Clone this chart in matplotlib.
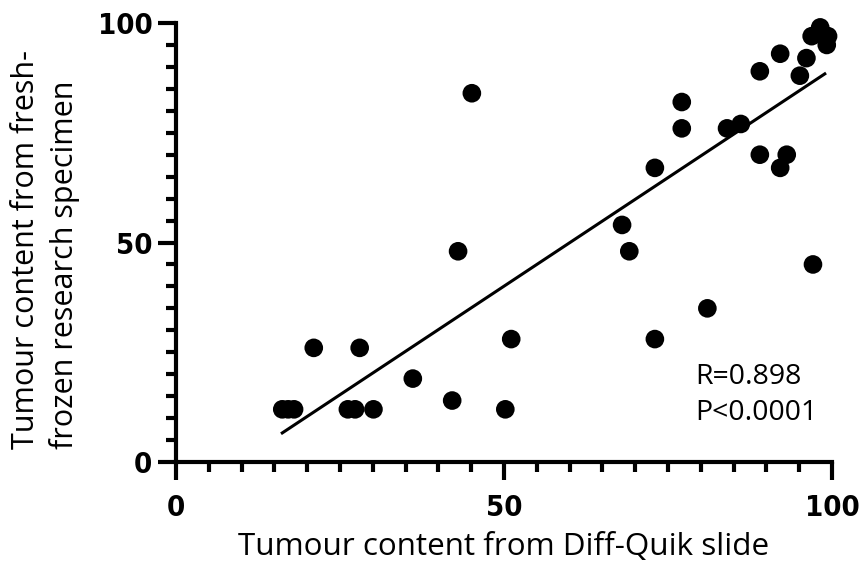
import matplotlib.pyplot as plt
import numpy as np
from matplotlib.ticker import MultipleLocator

# Tumour content (%)
diff_quik = [16.2, 17.1, 18.0, 21.0, 28.0, 26.2, 27.3, 30.1, 36.1, 42.1,
             43.0, 45.1, 50.2, 51.1, 73.0, 81.0, 68.0, 69.1, 73.0, 77.1,
             77.1, 84.0, 86.1, 89.0, 93.1, 92.1, 89.0, 92.1, 96.1, 95.1,
             97.1, 98.2, 96.9, 99.4, 99.2]
fresh_frozen = [12, 12, 12, 26, 26, 12, 12, 12, 19, 14,
                48, 84, 12, 28, 28, 35, 54, 48, 67, 82,
                76, 76, 77, 70, 70, 67, 89, 93, 92, 88,
                45, 99, 97, 97, 95]
# regression line as drawn in the figure
fit_slope = 0.989
fit_intercept = -9.4
fit_x = [16.2, 98.9]
stats_text = "R=0.898\nP<0.0001"

x = np.array(diff_quik)
y = np.array(fresh_frozen)
xfit = np.array(fit_x)

fig = plt.figure(figsize=(8.64, 5.72), dpi=100)
ax = fig.add_axes([176 / 864, 110 / 572, 656 / 864, 439 / 572])

ax.scatter(x, y, s=180, color="black", edgecolors="none", clip_on=False, zorder=3)
ax.plot(xfit, fit_slope * xfit + fit_intercept, color="black", lw=2.2, zorder=2)

ax.set_xlim(0, 100)
ax.set_ylim(0, 100)
for side in ["top", "right"]:
    ax.spines[side].set_visible(False)
for side in ["left", "bottom"]:
    ax.spines[side].set_linewidth(3)

ax.xaxis.set_major_locator(MultipleLocator(50))
ax.xaxis.set_minor_locator(MultipleLocator(5))
ax.yaxis.set_major_locator(MultipleLocator(50))
ax.yaxis.set_minor_locator(MultipleLocator(5))
ax.tick_params(which="major", length=13, width=3)
ax.tick_params(which="minor", length=7, width=3)
ax.tick_params(axis="x", which="major", pad=10)
ax.tick_params(axis="y", which="major", pad=4)

tick_font = dict(family=["DejaVu Sans"], weight="bold", stretch="condensed", size=21)
for lab in ax.get_xticklabels() + ax.get_yticklabels():
    lab.set(**tick_font)

ax.set_xlabel("Tumour content from Diff-Quik slide", labelpad=7,
              family=["Open Sans", "DejaVu Sans"], size=22.6)
fig.text(0.053, 0.563, "Tumour content from fresh-\nfrozen research specimen",
         rotation=90, ha="center", va="center", multialignment="left",
         linespacing=1.35, family=["Open Sans", "DejaVu Sans"], size=22)

ax.text(0.791, 0.226, stats_text, transform=ax.transAxes, ha="left", va="top",
        family=["Open Sans", "DejaVu Sans"], size=20.5, linespacing=1.4)

fig.savefig("out.png", dpi=100)
